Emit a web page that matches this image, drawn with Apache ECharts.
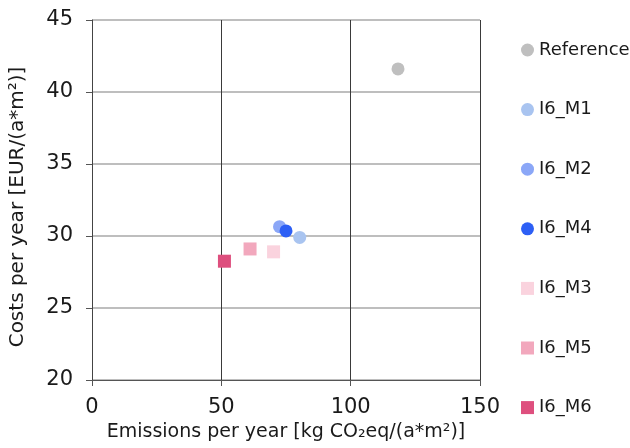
<!DOCTYPE html>
<html>
<head>
<meta charset="utf-8">
<script src="https://cdn.jsdelivr.net/npm/echarts@6/dist/echarts.min.js"></script>
<style>html,body{margin:0;padding:0;background:#fff;}#c{width:630px;height:448px;}</style>
</head>
<body>
<div id="c"></div>
<script>
const seriesNames = ['Reference', 'I6_M1', 'I6_M2', 'I6_M4', 'I6_M3', 'I6_M5', 'I6_M6'];
const emissions = [118.3, 80.3, 72.5, 75.0, 70.2, 61.1, 51.2];
const costs = [41.6, 29.9, 30.65, 30.35, 28.9, 29.1, 28.25];
const symbols = ['circle', 'circle', 'circle', 'circle', 'rect', 'rect', 'rect'];
const colors = ['#bfbfbf', '#a9c4f0', '#8ba7f7', '#2d5ff5', '#fad3de', '#f2a8bd', '#de4f7e'];
const xTicks = [0, 50, 100, 150];
const yTicks = [20, 25, 30, 35, 40, 45];

const font = 'DejaVu Sans, sans-serif';
const chart = echarts.init(document.getElementById('c'), null, {renderer: 'canvas'});
const series = seriesNames.map((n, i) => ({
  name: n,
  type: 'scatter',
  symbol: symbols[i],
  symbolSize: 13,
  data: [[emissions[i], costs[i]]],
  itemStyle: {color: colors[i], opacity: 1},
  z: 2 + i
}));
chart.setOption({
  animation: false,
  grid: {left: 92, top: 20, right: 150, bottom: 68},
  xAxis: {
    type: 'value', min: xTicks[0], max: xTicks[xTicks.length - 1], interval: 50,
    name: 'Emissions per year [kg CO\u2082eq/(a*m\u00b2)]',
    nameLocation: 'middle', nameGap: 41,
    nameTextStyle: {fontFamily: font, fontSize: 19, color: '#1a1a1a'},
    axisLine: {show: true, lineStyle: {color: '#555', width: 1}},
    axisTick: {show: true, inside: false, length: 6, lineStyle: {color: '#555'}},
    axisLabel: {fontFamily: font, fontSize: 21, color: '#1a1a1a', margin: 17},
    splitLine: {show: true, lineStyle: {color: '#3a3a3a', width: 1}}
  },
  yAxis: {
    type: 'value', min: yTicks[0], max: yTicks[yTicks.length - 1], interval: 5,
    name: 'Costs per year [EUR/(a*m\u00b2)]',
    nameLocation: 'middle', nameGap: 64, nameRotate: 90,
    nameTextStyle: {fontFamily: font, fontSize: 20, color: '#1a1a1a', padding: [0, 14, 0, 0]},
    axisLine: {show: true, lineStyle: {color: '#444', width: 1}},
    axisTick: {show: true, inside: false, length: 6, lineStyle: {color: '#555'}},
    axisLabel: {fontFamily: font, fontSize: 21, color: '#1a1a1a', margin: 19},
    splitLine: {show: true, lineStyle: {color: '#a8a8a8', width: 1.5}}
  },
  legend: {
    orient: 'vertical', left: 516, top: 36,
    itemWidth: 13, itemHeight: 13, itemGap: 41.6,
    data: seriesNames.map((n, i) => ({name: n, icon: symbols[i]})),
    textStyle: {fontFamily: font, fontSize: 18, color: '#1a1a1a'},
    selectedMode: false
  },
  series: series
});
</script>
</body>
</html>
